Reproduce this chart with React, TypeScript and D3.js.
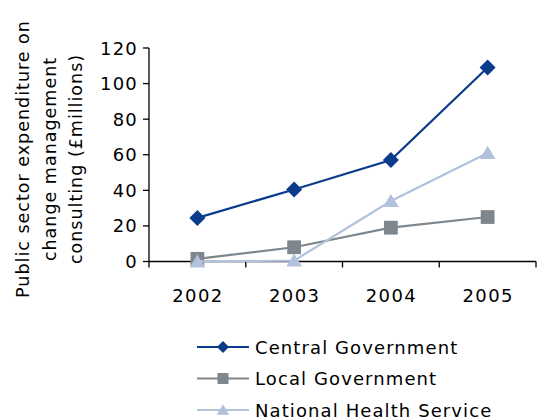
import { useEffect, useRef } from 'react';
import * as d3 from 'd3';

const years = ['2002', '2003', '2004', '2005'];
const central = [24.5, 40.5, 57, 109];
const local = [1.5, 8, 19, 25];
const nhs = [0, 0.5, 34, 61];
const yTicks = [0, 20, 40, 60, 80, 100, 120];
const seriesNames = ['Central Government', 'Local Government', 'National Health Service'];

const FONT = 'DejaVu Sans, Verdana, sans-serif';

// marker path centred at 0,0; s = nominal size in px
function markerPath(kind: string, s: number) {
  const p = d3.path();
  const h = s / 2;
  if (kind === 'diamond') {
    p.moveTo(0, -h); p.lineTo(h, 0); p.lineTo(0, h); p.lineTo(-h, 0);
  } else if (kind === 'square') {
    const q = h * 0.92;
    p.rect(-q, -q, 2 * q, 2 * q);
  } else {
    p.moveTo(0, -h * 0.95); p.lineTo(h * 1.05, h * 0.8); p.lineTo(-h * 1.05, h * 0.8);
  }
  p.closePath();
  return p.toString();
}

export default function App() {
  const svgRef = useRef<SVGSVGElement>(null);

  useEffect(() => {
    if (!svgRef.current) return;
    const svg = d3.select(svgRef.current);
    svg.selectAll('*').remove();

    const left = 149;
    const right = 536;
    const top = 48;
    const bottom = 261.5;

    const x = d3.scaleBand().domain(years).range([left, right]);
    const y = d3.scaleLinear().domain([0, 120]).range([bottom, top]);
    const cx = (yr: string) => (x(yr) as number) + x.bandwidth() / 2;

    const series = [
      { name: seriesNames[0], values: central, color: '#0b3b8c', marker: 'diamond' },
      { name: seriesNames[1], values: local, color: '#7f878e', marker: 'square' },
      { name: seriesNames[2], values: nhs, color: '#b2c2dd', marker: 'triangle' },
    ];

    // axes
    svg.append('line').attr('x1', left).attr('x2', left).attr('y1', top).attr('y2', bottom)
      .attr('stroke', '#000').attr('stroke-width', 1.3);
    svg.append('line').attr('x1', left).attr('x2', right).attr('y1', bottom).attr('y2', bottom)
      .attr('stroke', '#000').attr('stroke-width', 1.3);

    yTicks.forEach(t => {
      svg.append('line').attr('x1', left - 6).attr('x2', left).attr('y1', y(t)).attr('y2', y(t))
        .attr('stroke', '#000').attr('stroke-width', 1.3);
      svg.append('text')
        .attr('x', left - 11).attr('y', y(t))
        .attr('text-anchor', 'end').attr('dominant-baseline', 'central')
        .attr('font-family', FONT).attr('font-size', '18px').attr('letter-spacing', '1.2px')
        .attr('fill', '#000')
        .text(t);
    });

    const edges = years.map(yr => x(yr) as number).concat([right]);
    edges.forEach(e => {
      svg.append('line').attr('x1', e).attr('x2', e).attr('y1', bottom).attr('y2', bottom + 6)
        .attr('stroke', '#000').attr('stroke-width', 1.3);
    });

    years.forEach(yr => {
      svg.append('text')
        .attr('x', cx(yr) + 0.6).attr('y', 302)
        .attr('text-anchor', 'middle')
        .attr('font-family', FONT).attr('font-size', '18px').attr('letter-spacing', '1.4px')
        .attr('fill', '#000')
        .text(yr);
    });

    // y title
    const titleLines = ['Public sector expenditure on', 'change management', 'consulting (£millions)'];
    titleLines.forEach((l, i) => {
      svg.append('text')
        .attr('transform', `translate(${29 + i * 26.5},${159}) rotate(-90)`)
        .attr('text-anchor', 'middle')
        .attr('font-family', FONT).attr('font-size', '17.5px').attr('letter-spacing', '1px')
        .attr('fill', '#000')
        .text(l);
    });

    const line = d3.line<number>()
      .x((_, i) => cx(years[i]))
      .y(d => y(d));

    // draw order: local, nhs, central on top
    [series[1], series[2], series[0]].forEach(s => {
      svg.append('path').attr('d', line(s.values)).attr('fill', 'none')
        .attr('stroke', s.color).attr('stroke-width', 2.2);
      s.values.forEach((v, i) => {
        svg.append('path').attr('d', markerPath(s.marker, s.marker === 'diamond' ? 16 : 15))
          .attr('transform', `translate(${cx(years[i])},${y(v)})`)
          .attr('fill', s.color);
      });
    });

    // legend
    series.forEach((s, i) => {
      const ly = 347 + i * 31.5;
      svg.append('line').attr('x1', 197).attr('x2', 249).attr('y1', ly).attr('y2', ly)
        .attr('stroke', s.color).attr('stroke-width', 2.2);
      svg.append('path').attr('d', markerPath(s.marker, 12))
        .attr('transform', `translate(223,${ly})`).attr('fill', s.color);
      svg.append('text')
        .attr('x', 255).attr('y', ly).attr('dominant-baseline', 'central')
        .attr('font-family', FONT).attr('font-size', '18px').attr('letter-spacing', '1.1px')
        .attr('fill', '#000')
        .text(s.name);
    });
  }, []);

  return (
    <svg ref={svgRef} width={537} height={418}
      style={{ position: 'absolute', left: 0, top: 0, background: '#fff' }} />
  );
}
